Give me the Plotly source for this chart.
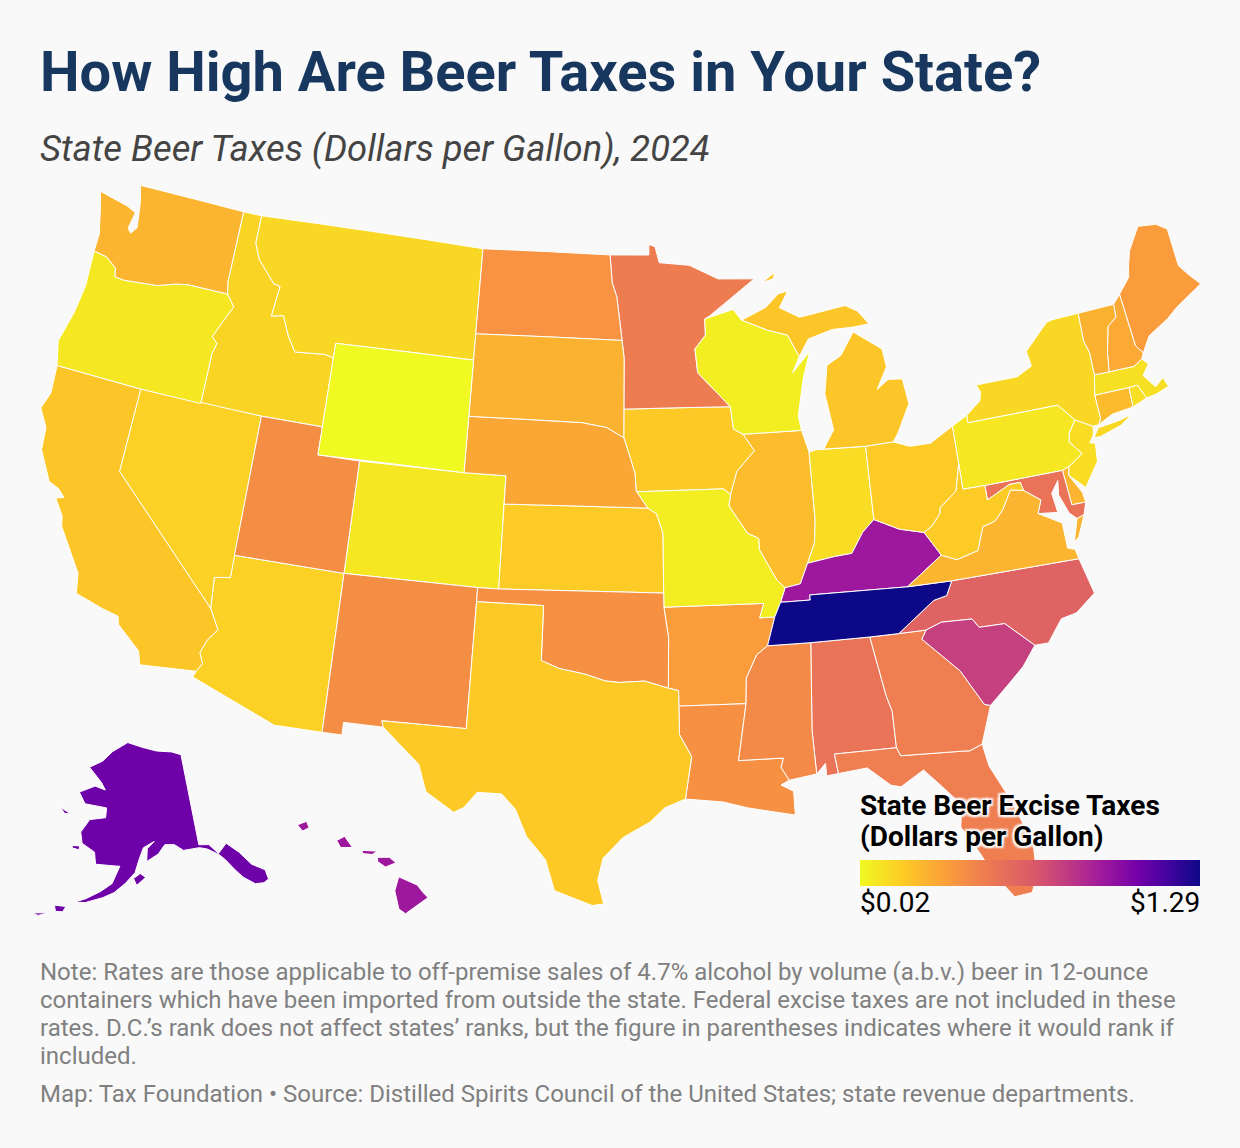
from urllib.parse import quote

import plotly.graph_objects as go

# State beer excise taxes, dollars per gallon (2024)
states = ['AL', 'AK', 'AZ', 'AR', 'CA', 'CO', 'CT', 'DE', 'DC', 'FL', 'GA', 'HI', 'ID', 'IL', 'IN', 'IA', 'KS',
          'KY', 'LA', 'ME', 'MD', 'MA', 'MI', 'MN', 'MS', 'MO', 'MT', 'NE', 'NV', 'NH', 'NJ', 'NM', 'NY', 'NC',
          'ND', 'OH', 'OK', 'OR', 'PA', 'RI', 'SC', 'SD', 'TN', 'TX', 'UT', 'VT', 'VA', 'WA', 'WV', 'WI', 'WY']
taxes = [0.53, 1.07, 0.16, 0.35, 0.20, 0.08, 0.24, 0.26, 0.61, 0.48, 0.48, 0.93, 0.15, 0.23, 0.12, 0.19, 0.18,
         0.93, 0.40, 0.35, 0.54, 0.11, 0.20, 0.49, 0.43, 0.06, 0.14, 0.31, 0.16, 0.30, 0.12, 0.41, 0.14, 0.62,
         0.39, 0.18, 0.40, 0.08, 0.08, 0.11, 0.77, 0.27, 1.29, 0.19, 0.41, 0.27, 0.26, 0.26, 0.18, 0.06, 0.02]
tick_labels = ['$0.02', '$1.29']

title = 'How High Are Beer Taxes in Your State?'
subtitle = 'State Beer Taxes (Dollars per Gallon), 2024'
legend_lines = ['State Beer Excise Taxes', '(Dollars per Gallon)']
note_lines = ['Note: Rates are those applicable to off-premise sales of 4.7% alcohol by volume (a.b.v.) beer in 12-ounce',
              'containers which have been imported from outside the state. Federal excise taxes are not included in these',
              'rates. D.C.’s rank does not affect states’ ranks, but the figure in parentheses indicates where it would rank if',
              'included.']
source = 'Map: Tax Foundation • Source: Distilled Spirits Council of the United States; state revenue departments.'

# Plasma, reversed, with the stops stretched the way the reference legend runs
colorscale = [[0, '#f0f921'], [0.13, '#fdca26'], [0.25, '#fb9f3a'], [0.38, '#ed7953'], [0.52, '#d8576b'],
              [0.62, '#bd3786'], [0.72, '#9c179e'], [0.82, '#7201a8'], [0.90, '#46039f'], [1, '#0d0887']]

# Simplified state outlines (lon, lat). Plotly fetches its own US topojson from a CDN,
# which isn't reachable here, so the base geography is supplied as geojson.
outlines = {
    'WA': [[(-124.7,48.38),(-124.4,47.7),(-124.1,46.9),(-124.1,46.27),(-123.4,46.2),(-122.8,45.9),(-122.7,45.6),(-122.2,45.57),(-121.2,45.65),(-120.5,45.7),(-119.6,45.92),(-118.98,46.0),(-116.92,46.0),(-117.04,46.42),(-117.04,49.0),(-122.75,49.0),(-122.5,48.4),(-122.3,47.5),(-122.55,47.25),(-122.75,47.4),(-122.6,48.0),(-123.1,48.15)]],
    'OR': [[(-124.1,46.27),(-124.0,45.0),(-124.15,44.0),(-124.5,42.85),(-124.2,42.0),(-120.0,42.0),(-117.03,42.0),(-117.03,43.8),(-116.9,44.2),(-117.2,44.4),(-116.85,45.0),(-116.47,45.6),(-116.92,46.0),(-118.98,46.0),(-119.6,45.92),(-120.5,45.7),(-121.2,45.65),(-122.2,45.57),(-122.7,45.6),(-122.8,45.9),(-123.4,46.2)]],
    'CA': [[(-124.2,42.0),(-120.0,42.0),(-120.0,39.0),(-114.63,35.0),(-114.14,34.3),(-114.5,33.9),(-114.72,33.4),(-114.52,33.03),(-114.72,32.72),(-117.12,32.53),(-117.3,33.0),(-118.4,33.75),(-118.5,34.03),(-119.2,34.15),(-120.5,34.45),(-120.65,35.15),(-121.9,36.6),(-122.0,36.95),(-122.5,37.5),(-122.15,37.6),(-122.5,37.85),(-123.0,38.0),(-123.75,39.0),(-123.85,39.8),(-124.35,40.4),(-124.1,41.0)]],
    'NV': [[(-120.0,42.0),(-114.04,42.0),(-114.04,36.2),(-114.74,36.1),(-114.63,35.0),(-120.0,39.0)]],
    'ID': [[(-117.04,49.0),(-116.05,49.0),(-116.05,48.0),(-115.7,47.45),(-114.7,46.7),(-114.35,46.65),(-114.5,45.55),(-113.9,45.65),(-113.45,44.95),(-113.0,44.45),(-111.5,44.55),(-111.05,44.48),(-111.05,42.0),(-114.04,42.0),(-117.03,42.0),(-117.03,43.8),(-116.9,44.2),(-117.2,44.4),(-116.85,45.0),(-116.47,45.6),(-116.92,46.0),(-117.04,46.42)]],
    'MT': [[(-116.05,49.0),(-104.05,49.0),(-104.05,45.94),(-104.05,45.0),(-111.05,45.0),(-111.05,44.48),(-111.5,44.55),(-113.0,44.45),(-113.45,44.95),(-113.9,45.65),(-114.5,45.55),(-114.35,46.65),(-114.7,46.7),(-115.7,47.45),(-116.05,48.0)]],
    'WY': [[(-111.05,45.0),(-104.05,45.0),(-104.05,43.0),(-104.05,41.0),(-111.05,41.0)]],
    'UT': [[(-114.04,42.0),(-111.05,42.0),(-111.05,41.0),(-109.05,41.0),(-109.05,37.0),(-114.05,37.0)]],
    'CO': [[(-109.05,41.0),(-104.05,41.0),(-102.05,41.0),(-102.05,40.0),(-102.05,37.0),(-103.0,37.0),(-109.05,37.0)]],
    'AZ': [[(-114.05,37.0),(-109.05,37.0),(-109.05,31.33),(-111.07,31.33),(-114.81,32.5),(-114.72,32.72),(-114.52,33.03),(-114.72,33.4),(-114.5,33.9),(-114.14,34.3),(-114.63,35.0),(-114.74,36.1),(-114.04,36.2)]],
    'NM': [[(-109.05,37.0),(-103.0,37.0),(-103.0,36.5),(-103.04,32.0),(-106.62,32.0),(-106.53,31.78),(-108.21,31.78),(-108.21,31.33),(-109.05,31.33)]],
    'ND': [[(-104.05,49.0),(-97.23,49.0),(-97.1,48.0),(-96.85,47.5),(-96.56,45.94),(-104.05,45.94)]],
    'SD': [[(-104.05,45.94),(-96.56,45.94),(-96.45,45.3),(-96.45,43.5),(-96.45,42.49),(-97.3,42.85),(-98.5,43.0),(-104.05,43.0),(-104.05,45.0)]],
    'NE': [[(-104.05,43.0),(-98.5,43.0),(-97.3,42.85),(-96.45,42.49),(-96.1,41.7),(-95.9,41.2),(-95.85,40.6),(-95.31,40.0),(-102.05,40.0),(-102.05,41.0),(-104.05,41.0)]],
    'KS': [[(-102.05,40.0),(-95.31,40.0),(-94.9,39.8),(-94.61,39.1),(-94.62,37.0),(-102.05,37.0)]],
    'OK': [[(-103.0,37.0),(-102.05,37.0),(-94.62,37.0),(-94.62,36.5),(-94.43,35.4),(-94.48,33.64),(-95.5,33.9),(-96.6,33.85),(-97.2,33.9),(-98.1,34.13),(-99.2,34.3),(-100.0,34.56),(-100.0,36.5),(-103.0,36.5)]],
    'TX': [[(-103.0,36.5),(-100.0,36.5),(-100.0,34.56),(-99.2,34.3),(-98.1,34.13),(-97.2,33.9),(-96.6,33.85),(-95.5,33.9),(-94.48,33.64),(-94.04,33.55),(-94.04,33.0),(-94.04,31.99),(-93.55,31.2),(-93.85,29.7),(-94.7,29.4),(-95.3,28.9),(-96.4,28.35),(-97.2,27.6),(-97.4,26.8),(-97.15,25.96),(-97.6,25.9),(-99.1,26.4),(-99.5,27.5),(-100.3,28.3),(-100.8,29.25),(-101.4,29.77),(-102.4,29.77),(-102.9,29.2),(-103.3,29.0),(-104.5,29.65),(-104.9,30.6),(-106.53,31.78),(-106.62,32.0),(-103.04,32.0)]],
    'MN': [[(-97.23,49.0),(-95.15,49.0),(-95.15,49.38),(-94.82,49.3),(-94.6,48.72),(-93.0,48.6),(-91.5,48.07),(-89.6,48.0),(-92.05,46.75),(-92.29,46.66),(-92.29,46.08),(-92.85,45.6),(-92.75,44.75),(-91.2,43.5),(-96.45,43.5),(-96.45,45.3),(-96.56,45.94),(-96.85,47.5),(-97.1,48.0)]],
    'IA': [[(-96.45,43.5),(-91.2,43.5),(-91.1,42.7),(-90.65,42.5),(-90.15,41.9),(-91.05,41.2),(-91.4,40.4),(-91.73,40.61),(-95.77,40.58),(-95.85,40.6),(-95.9,41.2),(-96.1,41.7),(-96.45,42.49)]],
    'MO': [[(-95.77,40.58),(-91.73,40.61),(-91.4,40.4),(-91.5,40.0),(-90.7,39.0),(-90.2,38.8),(-90.2,38.4),(-89.5,37.3),(-89.15,37.0),(-89.4,36.5),(-89.7,36.0),(-90.37,36.0),(-90.15,36.5),(-94.62,36.5),(-94.62,37.0),(-94.61,39.1),(-94.9,39.8),(-95.31,40.0),(-95.85,40.6)]],
    'AR': [[(-94.62,36.5),(-90.15,36.5),(-90.37,36.0),(-89.7,36.0),(-90.1,35.0),(-90.6,34.7),(-91.1,33.9),(-91.17,33.0),(-94.04,33.0),(-94.04,33.55),(-94.48,33.64),(-94.43,35.4)]],
    'LA': [[(-94.04,33.0),(-91.17,33.0),(-91.6,31.0),(-89.73,31.0),(-89.85,30.67),(-89.55,30.2),(-89.9,30.05),(-89.4,29.8),(-89.4,28.95),(-90.2,29.1),(-91.3,29.3),(-92.3,29.55),(-93.85,29.7),(-93.55,31.2),(-94.04,31.99)]],
    'WI': [[(-92.29,46.66),(-90.8,46.95),(-90.4,46.55),(-89.1,46.13),(-88.1,45.9),(-87.6,45.1),(-88.0,44.55),(-87.05,45.25),(-87.5,44.3),(-87.9,43.0),(-87.8,42.49),(-90.65,42.5),(-91.1,42.7),(-91.2,43.5),(-92.75,44.75),(-92.85,45.6),(-92.29,46.08)]],
    'IL': [[(-90.65,42.5),(-87.8,42.49),(-87.53,41.7),(-87.53,39.3),(-87.65,38.5),(-88.05,37.8),(-88.45,37.1),(-89.15,37.0),(-89.5,37.3),(-90.2,38.4),(-90.2,38.8),(-90.7,39.0),(-91.5,40.0),(-91.4,40.4),(-91.05,41.2),(-90.15,41.9)]],
    'IN': [[(-87.53,41.7),(-87.2,41.76),(-84.8,41.7),(-84.82,39.1),(-85.4,38.7),(-86.0,38.0),(-86.8,37.95),(-88.05,37.8),(-87.65,38.5),(-87.53,39.3)]],
    'MI': [[(-86.82,41.76),(-84.8,41.7),(-83.45,41.73),(-83.15,42.05),(-82.45,43.0),(-82.6,43.9),(-83.3,43.95),(-83.9,43.65),(-83.3,44.4),(-83.4,45.05),(-84.75,45.78),(-85.5,45.0),(-86.25,44.7),(-86.5,43.7),(-86.25,42.4)],
           [(-90.4,46.55),(-89.1,46.95),(-88.4,47.4),(-87.9,47.47),(-88.4,46.9),(-87.4,46.5),(-85.0,46.75),(-84.4,46.5),(-83.9,46.0),(-84.7,45.95),(-85.8,45.95),(-87.05,45.7),(-87.6,45.1),(-88.1,45.9),(-89.1,46.13)],
           [(-89.2,47.85),(-88.5,48.17),(-88.6,47.95)]],
    'OH': [[(-84.8,41.7),(-83.45,41.73),(-82.7,41.5),(-81.7,41.5),(-80.52,41.98),(-80.52,40.64),(-80.85,39.7),(-81.7,39.2),(-81.75,39.0),(-82.2,38.6),(-82.6,38.42),(-83.7,38.65),(-84.82,39.1)]],
    'KY': [[(-89.4,36.5),(-89.15,37.0),(-88.45,37.1),(-88.05,37.8),(-86.8,37.95),(-86.0,38.0),(-85.4,38.7),(-84.82,39.1),(-83.7,38.65),(-82.6,38.42),(-81.97,37.54),(-83.68,36.6),(-88.07,36.68),(-88.07,36.5)]],
    'TN': [[(-89.4,36.5),(-88.07,36.5),(-88.07,36.68),(-83.68,36.6),(-81.68,36.59),(-82.0,36.1),(-82.6,36.0),(-84.32,35.0),(-85.6,35.0),(-88.2,35.0),(-90.1,35.0),(-89.7,36.0)]],
    'MS': [[(-90.1,35.0),(-88.2,35.0),(-88.45,31.9),(-88.4,30.35),(-89.55,30.2),(-89.85,30.67),(-89.73,31.0),(-91.6,31.0),(-91.17,33.0),(-91.1,33.9),(-90.6,34.7)]],
    'AL': [[(-88.2,35.0),(-85.6,35.0),(-85.18,32.87),(-85.0,32.3),(-85.0,31.0),(-87.6,31.0),(-87.5,30.3),(-88.0,30.25),(-88.0,30.7),(-88.4,30.35),(-88.45,31.9)]],
    'GA': [[(-85.6,35.0),(-84.32,35.0),(-83.11,35.0),(-83.35,34.7),(-81.9,33.4),(-81.1,32.1),(-80.85,32.03),(-81.45,30.72),(-82.0,30.55),(-82.2,30.57),(-84.86,30.7),(-85.0,31.0),(-85.0,32.3),(-85.18,32.87)]],
    'FL': [[(-87.5,30.3),(-87.6,31.0),(-85.0,31.0),(-84.86,30.7),(-82.2,30.57),(-82.0,30.55),(-81.45,30.72),(-81.3,29.9),(-80.6,28.5),(-80.05,26.9),(-80.12,25.8),(-80.4,25.2),(-81.1,25.15),(-81.8,26.1),(-82.2,26.9),(-82.8,27.9),(-82.65,28.7),(-83.4,29.5),(-84.0,30.1),(-85.0,29.6),(-85.4,29.7),(-86.3,30.4)]],
    'SC': [[(-83.35,34.7),(-83.11,35.0),(-82.4,35.2),(-81.05,35.15),(-80.8,34.82),(-79.67,34.8),(-78.55,33.86),(-79.2,33.2),(-79.9,32.7),(-80.85,32.03),(-81.1,32.1),(-81.9,33.4)]],
    'NC': [[(-84.32,35.0),(-83.11,35.0),(-82.4,35.2),(-81.05,35.15),(-80.8,34.82),(-79.67,34.8),(-78.55,33.86),(-77.95,33.85),(-77.2,34.6),(-76.5,34.7),(-75.55,35.25),(-75.9,36.55),(-81.68,36.59),(-82.0,36.1),(-82.6,36.0)]],
    'VA': [[(-83.68,36.6),(-81.97,37.54),(-81.3,37.3),(-80.3,37.5),(-79.9,38.3),(-79.3,38.42),(-78.87,38.76),(-78.35,39.4),(-77.75,39.3),(-77.05,38.85),(-77.3,38.4),(-76.3,37.9),(-76.3,37.0),(-75.98,36.9),(-75.9,36.55),(-81.68,36.59)],
           [(-75.95,37.15),(-75.6,37.95),(-75.25,38.03),(-75.7,37.3)]],
    'WV': [[(-82.6,38.42),(-82.2,38.6),(-81.75,39.0),(-81.7,39.2),(-80.85,39.7),(-80.52,40.64),(-80.52,39.72),(-79.48,39.72),(-79.48,39.2),(-78.35,39.6),(-77.83,39.6),(-77.75,39.3),(-78.35,39.4),(-78.87,38.76),(-79.3,38.42),(-79.9,38.3),(-80.3,37.5),(-81.3,37.3),(-81.97,37.54)]],
    'MD': [[(-79.48,39.72),(-75.79,39.72),(-75.7,38.46),(-75.05,38.45),(-75.25,38.03),(-75.6,37.95),(-75.9,38.2),(-76.2,38.9),(-76.1,39.4),(-76.5,39.0),(-76.4,38.3),(-77.3,38.4),(-77.05,38.85),(-77.75,39.3),(-77.83,39.6),(-78.35,39.6),(-79.48,39.2)]],
    'DE': [[(-75.79,39.72),(-75.45,39.8),(-75.55,39.5),(-75.1,38.8),(-75.05,38.45),(-75.7,38.46)]],
    'DC': [[(-77.12,38.93),(-77.04,39.0),(-76.91,38.89),(-77.04,38.8)]],
    'PA': [[(-80.52,41.98),(-79.76,42.27),(-79.76,42.0),(-75.35,42.0),(-74.7,41.36),(-75.1,40.95),(-75.2,40.65),(-74.72,40.15),(-75.45,39.8),(-75.79,39.72),(-79.48,39.72),(-80.52,39.72),(-80.52,40.64)]],
    'NY': [[(-79.76,42.27),(-79.0,42.7),(-78.9,43.0),(-79.05,43.27),(-77.0,43.28),(-76.2,43.55),(-76.3,44.1),(-75.0,44.95),(-74.7,45.0),(-73.34,45.01),(-73.4,44.0),(-73.25,43.55),(-73.28,42.75),(-73.5,42.05),(-73.49,41.2),(-73.65,41.0),(-73.92,41.0),(-74.7,41.36),(-75.35,42.0),(-79.76,42.0)],
           [(-74.0,40.6),(-73.7,40.9),(-72.6,40.98),(-72.0,41.1),(-72.6,40.8),(-73.7,40.58)]],
    'NJ': [[(-74.7,41.36),(-73.92,41.0),(-74.0,40.7),(-74.25,40.45),(-74.0,40.4),(-74.1,39.75),(-74.9,38.95),(-75.55,39.5),(-75.45,39.8),(-74.72,40.15),(-75.2,40.65),(-75.1,40.95)]],
    'CT': [[(-73.5,42.05),(-71.8,42.02),(-71.85,41.32),(-72.9,41.25),(-73.65,41.0),(-73.49,41.2)]],
    'RI': [[(-71.8,42.02),(-71.38,42.02),(-71.12,41.5),(-71.85,41.32)]],
    'MA': [[(-73.5,42.05),(-73.28,42.75),(-72.55,42.73),(-71.3,42.7),(-70.85,42.88),(-70.6,42.65),(-71.0,42.3),(-70.55,41.8),(-70.1,42.05),(-69.95,41.7),(-70.6,41.55),(-71.12,41.5),(-71.38,42.02),(-71.8,42.02)]],
    'VT': [[(-73.34,45.01),(-71.5,45.01),(-71.55,44.55),(-72.05,44.3),(-72.4,43.4),(-72.55,42.73),(-73.28,42.75),(-73.25,43.55),(-73.4,44.0)]],
    'NH': [[(-71.5,45.01),(-71.08,45.3),(-70.98,43.4),(-70.7,43.07),(-70.85,42.88),(-71.3,42.7),(-72.55,42.73),(-72.4,43.4),(-72.05,44.3),(-71.55,44.55)]],
    'ME': [[(-71.08,45.3),(-70.4,45.8),(-70.25,46.2),(-70.0,46.7),(-69.23,47.46),(-68.3,47.35),(-67.8,47.07),(-67.8,45.7),(-67.45,45.3),(-67.0,44.85),(-68.5,44.3),(-69.1,44.0),(-70.2,43.6),(-70.7,43.07),(-70.98,43.4)]],
    'AK': [[(-141.0,69.65),(-143.5,70.1),(-148.0,70.4),(-152.0,70.85),(-156.6,71.35),(-161.0,70.3),(-163.5,69.2),(-166.8,68.35),(-163.0,67.0),(-161.8,66.3),(-164.5,66.55),(-168.1,65.65),(-166.2,64.6),(-161.0,64.5),(-161.0,63.5),(-164.5,63.1),(-166.0,61.7),(-165.3,60.6),(-162.5,59.9),(-162.0,58.7),(-158.0,58.7),(-157.2,58.7),(-158.5,56.9),(-160.5,56.0),(-163.0,55.1),(-164.8,54.6),(-163.0,54.7),(-160.0,55.4),(-158.0,56.0),(-156.0,57.0),(-154.2,58.1),(-153.5,59.3),(-152.5,60.6),(-150.2,61.2),(-151.7,60.5),(-151.9,59.2),(-149.5,59.9),(-148.0,60.8),(-146.0,60.7),(-144.3,60.0),(-141.0,60.0),(-139.5,59.7),(-137.5,58.9),(-136.5,58.2),(-135.3,57.0),(-134.2,56.0),(-132.5,55.0),(-131.0,54.8),(-130.0,55.0),(-130.0,56.0),(-132.0,57.0),(-133.5,58.5),(-135.5,59.8),(-137.5,59.0),(-139.0,60.1),(-141.0,60.3)],
           [(-154.5,57.5),(-153.2,58.0),(-152.2,57.6),(-153.9,56.8)],
           [(-167.3,60.2),(-165.7,60.3),(-165.7,59.9),(-167.0,59.95)],
           [(-171.7,63.7),(-169.0,63.3),(-170.3,63.2)],
           [(-168.2,53.9),(-166.2,54.0),(-166.6,53.4),(-167.8,53.3)],
           [(-171.5,52.6),(-169.0,53.0),(-170.5,52.5)]],
    'HI': [[(-155.9,20.25),(-155.2,19.95),(-155.0,19.7),(-154.8,19.5),(-155.65,18.93),(-155.9,19.1),(-156.05,19.75)],
           [(-156.7,20.95),(-156.25,20.95),(-156.0,20.75),(-156.4,20.6),(-156.7,20.8)],
           [(-157.3,21.2),(-156.7,21.17),(-156.9,21.05),(-157.25,21.08)],
           [(-158.25,21.55),(-157.95,21.7),(-157.65,21.3),(-158.1,21.3)],
           [(-159.75,22.1),(-159.4,22.23),(-159.3,22.0),(-159.55,21.88)]],
}


def clockwise(ring):
    # d3-geo reads a counter-clockwise ring as "everything but this polygon"
    area = sum(a[0] * b[1] - b[0] * a[1] for a, b in zip(ring, ring[1:] + ring[:1]))
    ring = ring if area < 0 else ring[::-1]
    return [list(p) for p in ring + ring[:1]]


features = [{'type': 'Feature', 'id': st,
             'geometry': {'type': 'MultiPolygon', 'coordinates': [[clockwise(r)] for r in rings]}}
            for st, rings in outlines.items()]
geojson = {'type': 'FeatureCollection', 'features': features}

# the geo subplot always asks for a base topology, even with every base layer off;
# hand it an empty one (the '#' swallows the file name plotly appends)
empty_topology = 'data:application/json,' + quote('{"type":"Topology","objects":{},"arcs":[]}') + '#'

W, H = 1240, 1148


def label(text, x, y, size, color, xanchor='left', **kw):
    fig.add_annotation(text=text, x=x / W, y=1 - y / H, xref='paper', yref='paper', xanchor=xanchor, yanchor='middle',
                       align='left', showarrow=False, font=dict(family='Roboto', size=size, color=color, **kw))


fig = go.Figure(go.Choropleth(
    geojson=geojson, locations=states, z=taxes, locationmode='geojson-id',
    colorscale=colorscale, zmin=min(taxes), zmax=max(taxes),
    marker_line_color='white', marker_line_width=1,
    colorbar=dict(orientation='h', x=860 / W, xanchor='left', y=1 - 886 / H, yanchor='bottom',
                  len=340, lenmode='pixels', thickness=26, outlinewidth=0, xpad=0, ypad=0,
                  ticks='', showticklabels=False),
))
# narrow lon/lat box: the map is fitted to it, so this is what sets the scale (scaling
# with projection_scale would leave the clip box behind and cut the map off)
fig.update_geos(scope='usa', bgcolor='rgba(0,0,0,0)', showframe=False, showland=False, showlakes=False,
                showcountries=False, showcoastlines=False, showsubunits=False, showocean=False, showrivers=False,
                lonaxis_range=[-118.75, -73.25], lataxis_range=[20, 52],
                domain=dict(x=[23 / W, 1217 / W], y=[1 - 937 / H, 1 - 153 / H]))
fig.update_layout(width=W, height=H, paper_bgcolor='#f9f9f9', margin=dict(l=0, r=0, t=0, b=0))

label(title, 38, 72, 56, '#17375e', weight='bold')
label(subtitle, 38, 148, 36.4, '#444444', style='italic')
halo = ','.join(f'{dx}px {dy}px 2px #f9f9f9' for dx in (-2, 2) for dy in (-2, 2))
for line, y in zip(legend_lines, [805, 836]):
    label(line, 858, y, 28, 'black', weight='bold', shadow=halo)
label(tick_labels[0], 858, 902, 28, 'black')
label(tick_labels[1], 1202, 902, 28, 'black', xanchor='right')
for line, y in zip(note_lines, [972, 1000, 1028, 1056]):
    label(line, 38, y, 24, '#808080')
label(source, 38, 1094, 24, '#808080')

fig.write_html("out.html", config={'topojsonURL': empty_topology, 'displayModeBar': False},
               post_script="document.body.style.margin='0';document.body.style.background='#f9f9f9';")
